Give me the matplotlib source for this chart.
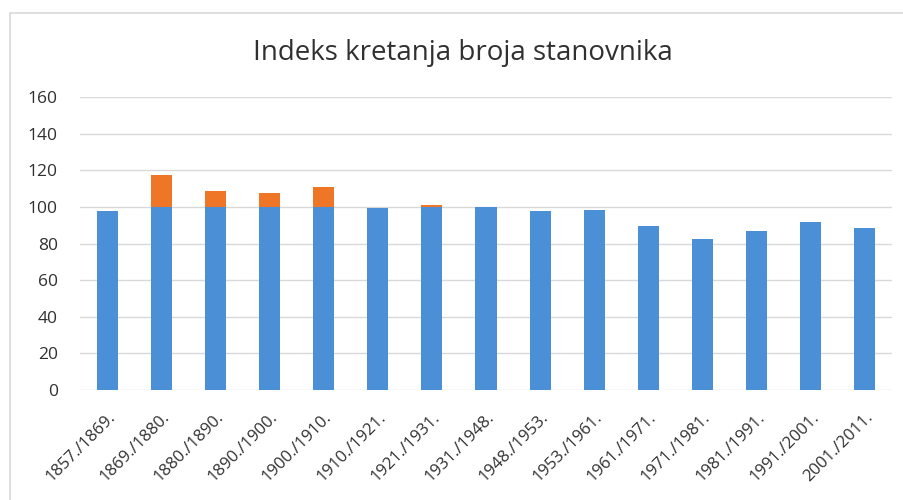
import matplotlib
matplotlib.use("Agg")
import matplotlib.pyplot as plt
from matplotlib.patches import Rectangle
import numpy as np

categories = ["1857./1869.", "1869./1880.", "1880./1890.", "1890./1900.", "1900./1910.",
              "1910./1921.", "1921./1931.", "1931./1948.", "1948./1953.", "1953./1961.",
              "1961./1971.", "1971./1981.", "1981./1991.", "1991./2001.", "2001./2011."]
index_values = [97.8, 117.3, 108.5, 107.6, 110.9, 99.6, 101.1, 100.0, 97.6, 98.2,
                89.3, 82.2, 86.9, 91.5, 88.4]
yticks = [0, 20, 40, 60, 80, 100, 120, 140, 160]
title = "Indeks kretanja broja stanovnika"

blue_part = [min(v, 100) for v in index_values]
orange_part = [max(v - 100, 0) for v in index_values]

plt.rcParams['font.family'] = ['Open Sans', 'DejaVu Sans']

fig = plt.figure(figsize=(9.04, 5.0), dpi=100)
fig.patch.set_facecolor('white')
fig.patches.append(Rectangle((10 / 904, -0.1), 1.2, 1 - 13 / 500 + 0.1,
                             transform=fig.transFigure, fill=False,
                             edgecolor='#d9d9d9', linewidth=1.2, zorder=0))

ax = fig.add_axes([80 / 904, 1 - 390 / 500, (892 - 80) / 904, (390 - 97) / 500])
x = np.arange(len(categories))
blue = '#4b8fd6'
orange = '#ef7627'
ax.bar(x, blue_part, width=0.39, color=blue, zorder=3)
ax.bar(x, orange_part, width=0.39, bottom=blue_part, color=orange, zorder=3)

ax.set_xlim(-0.5, len(categories) - 0.5)
ax.set_ylim(0, 160)
ax.set_yticks(yticks)
ax.set_yticklabels([str(t) for t in yticks], fontsize=12.5, color='#303030')
ax.grid(axis='y', color='#d9d9d9', linewidth=1.0, zorder=0)
for s in ax.spines.values():
    s.set_visible(False)
ax.tick_params(axis='both', length=0)
ax.tick_params(axis='y', pad=16)
ax.set_xticks(x)
ax.set_xticklabels(categories, rotation=45, ha='right', rotation_mode='anchor',
                   fontsize=12, color='#303030')
ax.tick_params(axis='x', pad=14)

fig.text(463 / 904, 1 - 53 / 500, title, ha='center', va='center',
         fontsize=20, color='#303030')

fig.savefig("out.png", dpi=100, facecolor='white')
